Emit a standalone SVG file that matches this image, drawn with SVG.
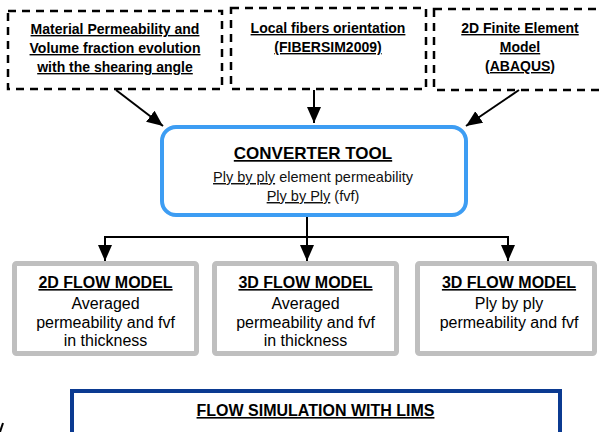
<svg xmlns="http://www.w3.org/2000/svg" width="599" height="432" viewBox="0 0 599 432">
<style>
.dash{fill:#fff;stroke:#000;stroke-width:2.5;stroke-dasharray:8 6}
.tb{font-family:"Liberation Sans",Arial,sans-serif;font-weight:bold;font-size:14px;text-anchor:middle;text-decoration:underline;fill:#000}
.conn{fill:none;stroke:#000;stroke-width:2}
.gbox{fill:#fff;stroke:#bfbfbf;stroke-width:5}
.h{font-family:"Liberation Sans",Arial,sans-serif;font-weight:bold;font-size:16px;text-anchor:middle;text-decoration:underline;fill:#000}
.n{font-family:"Liberation Sans",Arial,sans-serif;font-size:16px;text-anchor:middle;fill:#000}
.c{font-family:"Liberation Sans",Arial,sans-serif;font-size:14.5px;text-anchor:middle;fill:#111}
</style>
<defs>
<marker id="ah" markerUnits="userSpaceOnUse" markerWidth="17" markerHeight="15" refX="16" refY="7" orient="auto">
<path d="M0,0 L16,7 L0,14 z" fill="#000"/>
</marker>
</defs>
<g id="box-material">
<rect class="dash" x="8" y="11" width="214" height="78"/>
<text class="tb" x="115" y="34">Material Permeability and</text>
<text class="tb" x="115" y="53">Volume fraction evolution</text>
<text class="tb" x="115" y="72">with the shearing angle</text>
</g>
<g id="box-fibers">
<rect class="dash" x="231" y="8" width="195" height="81"/>
<text class="tb" x="328" y="33">Local fibers orientation</text>
<text class="tb" x="328" y="52">(FIBERSIM2009)</text>
</g>
<g id="box-fem">
<rect class="dash" x="434" y="9" width="175" height="81"/>
<text class="tb" x="520" y="33">2D Finite Element</text>
<text class="tb" x="520" y="52">Model</text>
<text class="tb" x="520" y="71">(ABAQUS)</text>
</g>
<g id="converter">
<rect x="162" y="127" width="304" height="88" rx="14" fill="#fff" stroke="#3d9df3" stroke-width="4"/>
<text x="313" y="159" style="font-family:'Liberation Sans',Arial,sans-serif;font-weight:bold;font-size:17px;text-anchor:middle;text-decoration:underline">CONVERTER TOOL</text>
<text class="c" x="313" y="182"><tspan text-decoration="underline">Ply by ply</tspan> element permeability</text>
<text class="c" x="313" y="201"><tspan text-decoration="underline">Ply by Ply</tspan> (fvf)</text>
</g>
<g id="flow2d">
<rect class="gbox" x="14.5" y="263.5" width="182" height="90" rx="2"/>
<text class="h" x="105.5" y="288">2D FLOW MODEL</text>
<text class="n" x="105.5" y="309">Averaged</text>
<text class="n" x="105.5" y="327.5">permeability and fvf</text>
<text class="n" x="105.5" y="346">in thickness</text>
</g>
<g id="flow3d-avg">
<rect class="gbox" x="214.5" y="263.5" width="182" height="90" rx="2"/>
<text class="h" x="305.5" y="288">3D FLOW MODEL</text>
<text class="n" x="305.5" y="309">Averaged</text>
<text class="n" x="305.5" y="327.5">permeability and fvf</text>
<text class="n" x="305.5" y="346">in thickness</text>
</g>
<g id="flow3d-ply">
<rect class="gbox" x="417.5" y="263.5" width="177" height="90" rx="2"/>
<text class="h" x="509" y="288">3D FLOW MODEL</text>
<text class="n" x="509" y="309">Ply by ply</text>
<text class="n" x="509" y="327.5">permeability and fvf</text>
</g>
<g id="simulation">
<rect x="72" y="391" width="488" height="60" fill="#fff" stroke="#0b3a91" stroke-width="4"/>
<text x="315.5" y="416" style="font-family:'Liberation Sans',Arial,sans-serif;font-weight:bold;font-size:16px;text-anchor:middle;text-decoration:underline">FLOW SIMULATION WITH LIMS</text>
</g>
<g id="connectors">
<path class="conn" d="M116,90 L163,126" marker-end="url(#ah)"/>
<path class="conn" d="M314,90 V123" marker-end="url(#ah)"/>
<path class="conn" d="M519,90 L466,126" marker-end="url(#ah)"/>
<path class="conn" d="M307,217 V261" marker-end="url(#ah)"/>
<path class="conn" d="M105,237 H508"/>
<path class="conn" d="M105,236 V261" marker-end="url(#ah)"/>
<path class="conn" d="M508,236 V261" marker-end="url(#ah)"/>
<path class="conn" d="M3,423 L0,432"/>
</g>
</svg>
